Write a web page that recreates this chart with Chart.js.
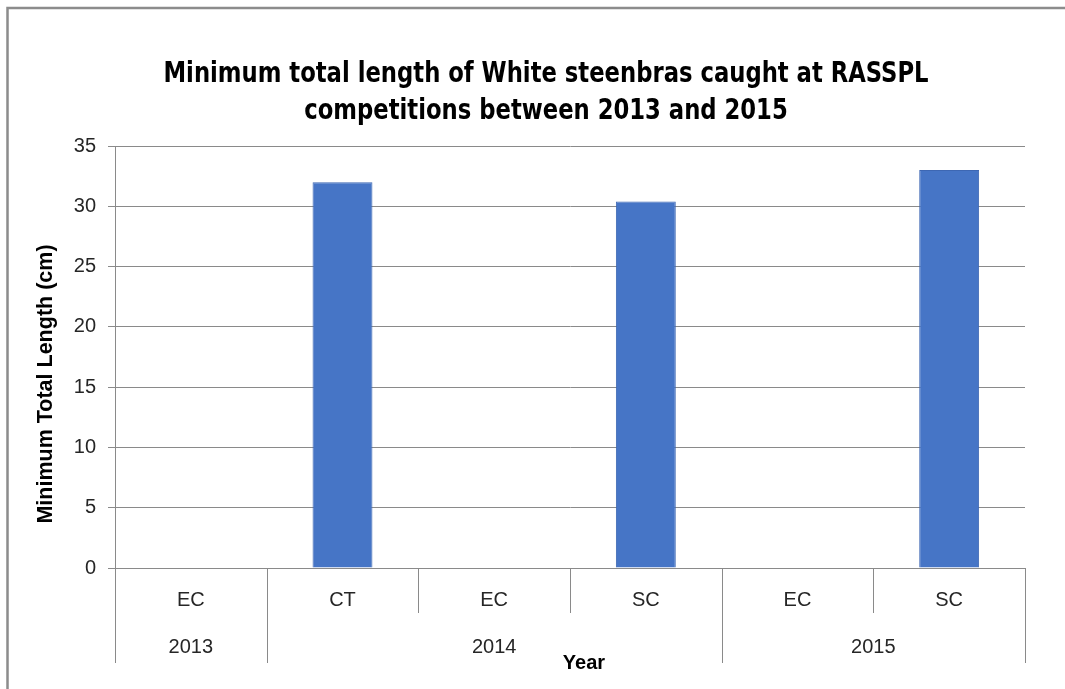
<!DOCTYPE html>
<html>
<head>
<meta charset="utf-8">
<script src="https://cdn.jsdelivr.net/npm/chart.js@4/dist/chart.umd.min.js"></script>
<style>
  html, body { margin: 0; padding: 0; background: #ffffff; }
  #wrap { position: relative; width: 1065px; height: 689px; }
  canvas { display: block; }
</style>
</head>
<body>
<div id="wrap"><canvas id="c" width="1065" height="689"></canvas></div>
<script>
// Competition sites (inner axis level) and the year each belongs to (outer level)
const sites = ['EC', 'CT', 'EC', 'SC', 'EC', 'SC'];
const years = ['2013', '2014', '2014', '2014', '2015', '2015'];
// Minimum total length (cm); null where no fish was recorded
const minLength = [null, 32, null, 30.4, null, 33];
const yTicks = [0, 5, 10, 15, 20, 25, 30, 35];

const titleLines = ['Minimum total length of White steenbras caught at RASSPL',
                    'competitions between 2013 and 2015'];
const yTitle = 'Minimum Total Length (cm)';
const xTitle = 'Year';

const LINE = '#8a8a8a';
const TEXT = '#262626';
const FONT = '"Liberation Sans", Arial, sans-serif';
const TITLE_FONT = '"Liberation Sans Narrow", "DejaVu Sans Condensed", "Liberation Sans", sans-serif';
const TITLE_WIDTH = 765; // width of the first title line, condensed to fit

// Draws the outer frame, chart title, y-axis title and the two-level category axis
const decorations = {
  id: 'decorations',
  beforeDraw(chart) {
    const ctx = chart.ctx;
    ctx.save();
    ctx.fillStyle = '#ffffff';
    ctx.fillRect(0, 0, chart.width, chart.height);
    ctx.strokeStyle = '#8c8c8c';
    ctx.lineWidth = 2.5;
    ctx.beginPath();
    ctx.moveTo(7.5, chart.height);
    ctx.lineTo(7.5, 8);
    ctx.lineTo(chart.width, 8);
    ctx.stroke();
    ctx.restore();
  },
  afterDraw(chart) {
    const ctx = chart.ctx;
    const x = chart.scales.x;
    const area = chart.chartArea;
    ctx.save();

    // Title, condensed horizontally like a narrow face
    ctx.fillStyle = '#000000';
    ctx.textAlign = 'center';
    ctx.textBaseline = 'middle';
    ctx.font = 'bold 29px ' + TITLE_FONT;
    const squeeze = Math.min(1, TITLE_WIDTH / ctx.measureText(titleLines[0]).width);
    ctx.save();
    ctx.translate(546, 0);
    ctx.scale(squeeze, 1);
    ctx.fillText(titleLines[0], 0, 74);
    ctx.fillText(titleLines[1], 0, 111);
    ctx.restore();

    // Y-axis title
    ctx.save();
    ctx.translate(46, 384);
    ctx.rotate(-Math.PI / 2);
    ctx.font = 'bold 21.5px ' + FONT;
    ctx.fillText(yTitle, 0, 0);
    ctx.restore();

    // Category separators
    const half = (x.getPixelForValue(1) - x.getPixelForValue(0)) / 2;
    ctx.strokeStyle = LINE;
    ctx.lineWidth = 1;
    const bottomInner = area.bottom + 45;
    const bottomOuter = area.bottom + 95;
    for (let i = 0; i <= sites.length; i++) {
      const px = Math.round(i < sites.length ? x.getPixelForValue(i) - half : x.getPixelForValue(i - 1) + half) + 0.5;
      const isGroupEdge = i === 0 || i === sites.length || years[i] !== years[i - 1];
      ctx.beginPath();
      ctx.moveTo(px, area.bottom);
      ctx.lineTo(px, isGroupEdge ? bottomOuter : bottomInner);
      ctx.stroke();
    }

    // Year group labels
    ctx.fillStyle = TEXT;
    ctx.font = '20px ' + FONT;
    let start = 0;
    for (let i = 1; i <= years.length; i++) {
      if (i === years.length || years[i] !== years[start]) {
        const left = x.getPixelForValue(start) - half;
        const right = x.getPixelForValue(i - 1) + half;
        ctx.fillText(years[start], (left + right) / 2, area.bottom + 79);
        start = i;
      }
    }

    // X-axis title
    ctx.fillStyle = '#000000';
    ctx.font = 'bold 20px ' + FONT;
    ctx.fillText(xTitle, 584, 663);
    ctx.restore();
  }
};

new Chart(document.getElementById('c'), {
  type: 'bar',
  data: {
    labels: sites,
    datasets: [{
      label: yTitle,
      data: minLength,
      backgroundColor: '#4675c6',
      borderColor: '#3d67b3',
      borderWidth: 1,
      barPercentage: 0.79,
      categoryPercentage: 0.5
    }]
  },
  options: {
    responsive: false,
    animation: false,
    devicePixelRatio: 1,
    layout: { padding: { top: 146, right: 40, bottom: 0, left: 0 } },
    plugins: {
      legend: { display: false },
      title: { display: false },
      tooltip: { enabled: false }
    },
    scales: {
      x: {
        afterFit(scale) { scale.height = 121; },
        grid: { display: false, drawTicks: false },
        border: { display: true, color: LINE, width: 1 },
        ticks: {
          color: TEXT,
          font: { family: FONT, size: 20 },
          padding: 20,
          maxRotation: 0,
          autoSkip: false
        }
      },
      y: {
        min: 0,
        max: 35,
        afterFit(scale) { scale.width = 115; },
        afterBuildTicks(scale) { scale.ticks = yTicks.map(v => ({ value: v })); },
        grid: { color: LINE, lineWidth: 1, tickLength: 7, drawTicks: true },
        border: { display: true, color: LINE, width: 1 },
        ticks: {
          color: TEXT,
          font: { family: FONT, size: 20 },
          padding: 12
        }
      }
    }
  },
  plugins: [decorations]
});
</script>
</body>
</html>
